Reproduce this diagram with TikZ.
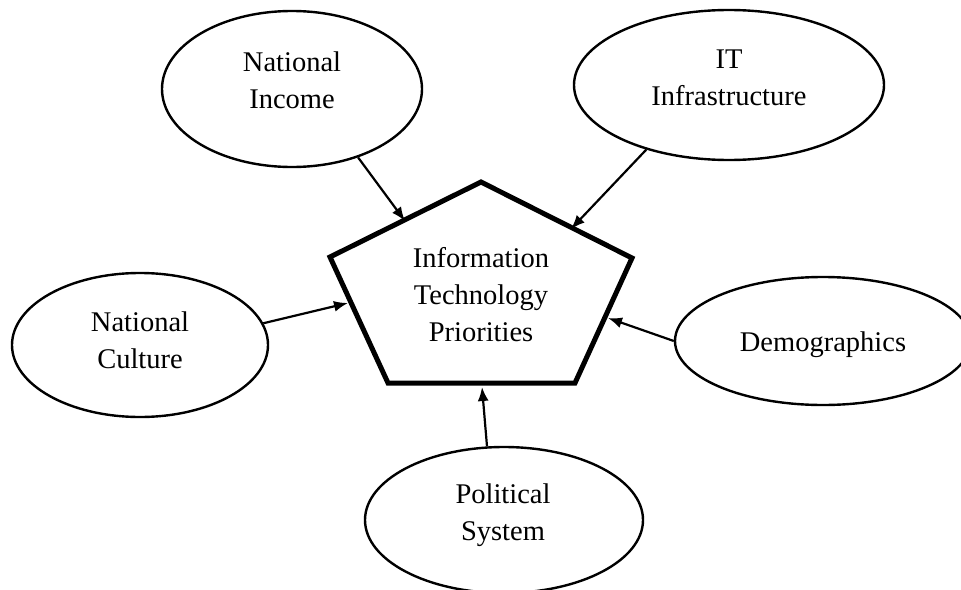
\documentclass[tikz,border=0pt]{standalone}
\usepackage{fontspec}
\setmainfont{Liberation Serif}
\usetikzlibrary{shapes.geometric,arrows.meta}
\begin{document}
\begin{tikzpicture}[x=1pt,y=-1pt,
  oval/.style={draw=black,line width=2.4pt,ellipse,inner sep=0pt},
  lbl/.style={align=center,font=\fontsize{28.5}{37}\selectfont,inner sep=0pt},
  feed/.style={line width=2.2pt,-{Latex[length=14pt,width=11pt]}},
  hub/.style={draw=black,line width=5pt,line join=miter}]
  \useasboundingbox (0,0) rectangle (961,589);
  \fill[white] (0,0) rectangle (961,589);

  % central pentagon
  \coordinate (p1) at (481,182);
  \coordinate (p2) at (632,258);
  \coordinate (p3) at (575,383);
  \coordinate (p4) at (388,383);
  \coordinate (p5) at (330,257);
  \draw[hub] (p1) -- (p2) -- (p3) -- (p4) -- (p5) -- cycle;
  \node[lbl] (itp) at (481,295) {Information\\Technology\\Priorities};

  % where the arrows meet the pentagon
  \coordinate (tni) at (405,221);
  \coordinate (tit) at (571,229);
  \coordinate (tnc) at (348,303);
  \coordinate (tdm) at (608,318);
  \coordinate (tps) at (482,387);

  % surrounding factors
  \node[oval,minimum width=260pt,minimum height=156pt] (ni) at (292,89) {};
  \node[lbl] (niT) at (292,80) {National\\Income};
  \node[oval,minimum width=310pt,minimum height=150pt] (it) at (729,85) {};
  \node[lbl] (itT) at (729,78) {IT\\Infrastructure};
  \node[oval,minimum width=256pt,minimum height=144pt] (nc) at (140,345) {};
  \node[lbl] (ncT) at (140,340) {National\\Culture};
  \node[oval,minimum width=296pt,minimum height=128pt] (dm) at (823,341) {};
  \node[lbl] (dmT) at (823,345) {Demographics};
  \node[oval,minimum width=278pt,minimum height=146pt] (ps) at (504,520) {};
  \node[lbl] (psT) at (503,515) {Political\\System};

  % influences
  \draw[feed] (ni.-46) -- (tni);
  \draw[feed] (it.-142) -- (tit);
  \draw[feed] (nc.10) -- (tnc);
  \draw[feed] (dm.180) -- (tdm);
  \draw[feed] (ps.103) -- (tps);
\end{tikzpicture}
\end{document}
